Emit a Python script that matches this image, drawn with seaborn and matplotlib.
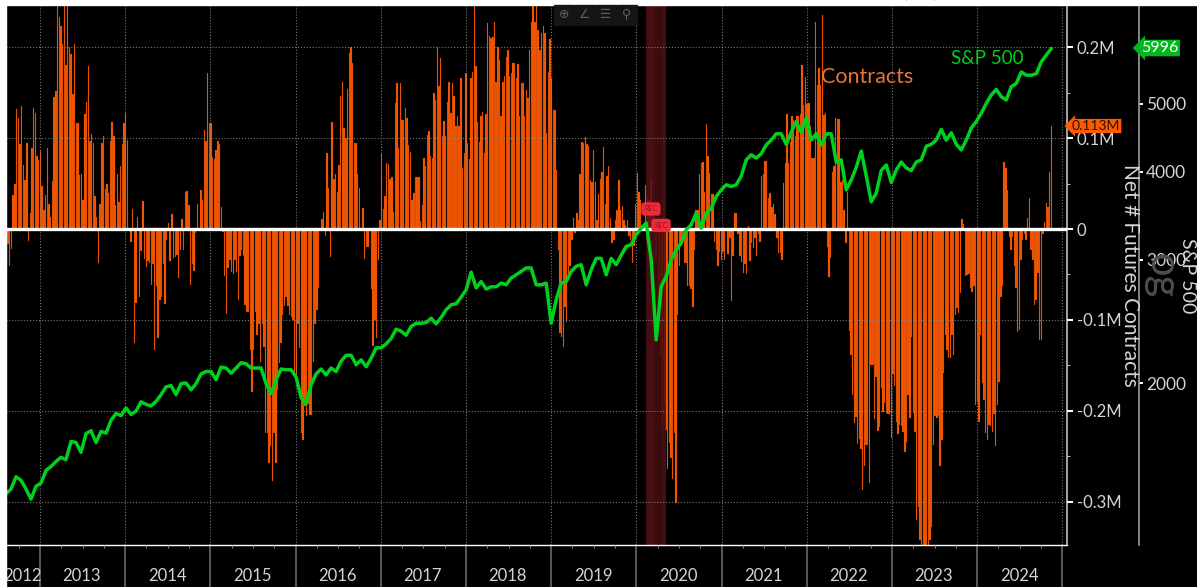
import numpy as np
import pandas as pd
import matplotlib
matplotlib.use('Agg')
import matplotlib.pyplot as plt
from matplotlib.patches import Rectangle
from matplotlib.ticker import NullLocator
import seaborn as sns

# net futures contracts in thousands, weekly in three stretches
contracts_a = [-43,-17,-41,-22,37,50,132,122,93,135,70,54,95,-13,18,89,133,127,80,76,86,47,21,37,89,27,13,53,145,152,
    250,233,223,203,250,180,250,200,192,148,203,116,117,59,60,32,126,140,179,97,104,95,36,13,-37,27,95,102,44,49,
    40,97,118,102,26,60,30,69,93,116,127,98,0,-14,22,-125,-81,13,-75,-24,31,-33,-42,-35,-37,-61,-39,-133,-63,-120,
    -78,-75,-39,-82,-12,7,-35,16,-32,-31,-29,-54,-23,11,-23,41,42,26,-61,-38,-46,-4,28,-1,43,32,109,97,171,116,
    116,79,77,87,97,93,24,-3,-52,-93,-43,-34,-47,-49,-34,-47,-78,-30,-23,-30,-84,-91,-91,-133,-179,-133,-91,-116,-104,-146,
    -104,-130,-224,-224,-257,-239,-277,-224,-257,-177,-147,-125,-94,-85,-75,-85,-94,-97,-100,-158,-162,-104,-131,-224,-232,-195,-206,-192,-204,-204,
    -146,-104,-89,-65,0,11,19,-8,84,45,-31,118,55,61,41,70,146,162,111,100,154,193,200,183,94,95,61,45,0,23,
    -33,-20,-20,0,-66,-129,-100,-120,-34,10,82,22,36,73,71,55,57,19,138,161]
contracts_b = [89,160,120,120,133,122,92,85,32,40,57,57,57,9,26,78,69,103,108,80,78,150,142,200,157,188,102,119,102,140,
    162,127,160,146,113,124,113,166,67,84,172,95,77,166,173,246,179,118,96,124,129,84,126,226,212,210,211,228,162,200,
    186,124,162,168,189,197,168,171,182,182,166,181,124,160,161,124,153,144,197,228,250,228,250,219,197,215,223,215,105,173,
    209,166,131,131,65,-23,-114,-119,-130,-86,-102,-56,-41,-12,12,-4,18,10,61,96,95,101,93,91,54,52,87,52,10,39,
    55,63,90,27,58,69,12,-15,-12,10,21,54,21,25,10,4,10,-8,-12,-37,-19,27,62,41,32,3,2,48,35,32,
    56,26,14,-35,-5,-90,-138,-215,-191,-221,-264,-235,-252,-275,-224,-301,-95,-41,-16,-17,-37,-37,-63,-63,-66,-86,-23,21,21,61,
    73,74,41,115,80,62,39,39,-14,-23,-41,-25,-34,-25,-34,0,-28,-10,-79,-30,18,18,-5,-30,-36,-48,-39,-50,
    3,-35,-15,-21,-10,-30,-5,-14,58,60,75,75,34,40,24,28,16,-10,-26,-26,-34,51,73,126,73,96,124,120,102,124]
contracts_c = [124,126,180,136,167,137,138,113,78,78,227,158,177,158,235,125,127,-20,-53,-32,63,69,122,121,121,52,54,21,-15,41,
    -112,-138,-182,-213,-207,-236,-231,-242,-287,-260,-237,-237,-279,-149,-149,-209,-163,-222,-218,-175,-201,-191,-202,-203,-203,-230,-159,-173,-212,-225,
    -215,-217,-223,-245,-234,-182,-208,-119,-202,-223,-320,-305,-342,-350,-350,-350,-350,-350,-342,-328,-237,-206,-208,-206,-261,-232,-158,-116,-133,-142,
    -142,-116,-138,-94,-87,-92,-70,11,5,-52,-51,-50,-65,-69,-63,-193,-190,-212,-116,-169,-188,-224,-232,-215,-217,-223,-203,-238,-193,-168,
    -75,-63,74,67,43,-9,-23,-9,-41,-65,-113,-111,-34,-12,-5,-12,12,34,-23,-34,-84,-78,-48,-122,-122,-5,8,29,24,63,113]

# S&P 500 read every few weeks
sp500_a = [1392,1414,1472,1455,1414,1368,1427,1442,1503,1523,1548,1569,1557,1653,1647,1595,1696,1712,1647,1708,
    1699,1771,1812,1799,1845,1806,1826,1882,1867,1857,1885,1927,1977,1985,1927,1998,2002,1958,1998,2063,
    2079,2079,2024,2109,2103,2068,2103,2140,2133,2103,2103,2103,1998,1934,2024,2096,2091,2091,2041,1908,
    1871,1991,2063,2096,2056,2103,2079,2150,2193,2193,2126,2160,2112,2171,2247,2247,2276,2317,2389]
sp500_b = [2373,2342,2410,2436,2436,2441,2476,2431,2482,2546,2588,2597,2654,2718,2880,2735,2792,2725,2745,2745,
    2778,2763,2825,2855,2887,2920,2920,2763,2763,2778,2436,2630,2778,2792,2887,2936,2951,2763,2902,3013,
    3013,2855,3013,2951,3045,3134,3151,3260,3327,3384,2999,2307,2748,2840,2999,3099,3169,3309,3365,3496,
    3327,3496,3552,3689,3772,3835,3814,3835,3947,4162,4232,4187,4247,4372,4441,4534,4534,4380,4558,4720]
sp500_c = [4558,4775,4443,4534,4372,4533,4533,4133,4162,3772,3898,4062,4284,3947,3628,3733,4019,4094,3865,4027,
    4133,4054,4019,4133,4162,4352,4380,4443,4600,4441,4549,4380,4300,4443,4622,4720,4851,5011,5150,5245,
    5120,5066,5292,5347,5553,5495,5495,5522,5741,5870,5996]

year_labels = ['2012','2013','2014','2015','2016','2017','2018','2019','2020','2021','2022','2023','2024']
contract_ticks = [-300,-200,-100,0,100,200]
contract_labels = ['-0.3M','-0.2M','-0.1M','0','0.1M','0.2M']
sp_ticks = [2000,3000,4000,5000]

sns.set_style('dark', {'axes.facecolor':'black','figure.facecolor':'black'})
plt.rcParams['font.family'] = ['Lato','DejaVu Sans']
GREEN = '#00d01e'
ORANGE = '#ff5a00'
GREY = '#d4d4d4'

W, H = 1197, 587
fig = plt.figure(figsize=(W/100, H/100), dpi=100, facecolor='black')
fig.patches.append(Rectangle((0,0), 6/W, 1, transform=fig.transFigure, color='white'))
fig.patches.append(Rectangle((0,1-5/H), 1, 5/H, transform=fig.transFigure, color='white'))
fig.text(920/W, 1+2/H, '(Mn)', color='#0b6b3a', fontsize=13, ha='center', va='baseline', zorder=5)

ax = fig.add_axes([6/W, 42/H, 1061/W, 540/H], facecolor='black')

# year positions for the weekly bars
def span(n, a, b):
    return np.linspace(a, b, n, endpoint=False)
YL, YR = 2012.601, 2025.054
x_a = span(len(contracts_a), 2012.605, 2017.21)
x_b = span(len(contracts_b), 2017.21, 2021.905)
x_c = np.linspace(2021.905, 2024.87, len(contracts_c))
bars = pd.DataFrame({'date': np.round(np.concatenate([x_a, x_b, x_c]), 4),
                     'contracts': contracts_a + contracts_b + contracts_c})
sns.barplot(data=bars, x='date', y='contracts', native_scale=True, orient='x', errorbar=None,
            color=ORANGE, saturation=1, width=0.85, edgecolor='#8f3400', linewidth=0.15, ax=ax)
ax.set_xlim(YL, YR)
ax.set_ylim(-347.3, 246.2)
ax.set_xlabel('')
ax.set_ylabel('')

ax.axvspan(2020.113, 2020.344, color='#4f1015', alpha=0.88, lw=0, zorder=1.5)
ax.axvspan(2020.22, 2020.30, color='#2a0a0a', alpha=0.35, lw=0, zorder=1.6)
ax.axhline(0, color='white', lw=2.4, zorder=3)

years = np.arange(2013, 2026)
ax.set_xticks(years)
ax.set_xticklabels([])
ax.set_xticks(np.arange(2012.75, 2025, 0.25), minor=True)
ax.tick_params(axis='x', which='major', length=0, bottom=True)
ax.tick_params(axis='x', which='minor', length=2, width=0.8, color='#888888', bottom=True)
ax.set_yticks(contract_ticks)
ax.set_yticklabels(contract_labels)
ax.set_yticks([-250,-150,-50,50,150], minor=True)
ax.grid(True, which='major', color='#8a8a8a', ls=':', lw=0.8, alpha=0.85)
ax.set_axisbelow(False)

for s in ['left','top']:
    ax.spines[s].set_visible(False)
ax.spines['bottom'].set_color('white')
ax.spines['bottom'].set_linewidth(1)
ax.spines['right'].set_color('#c0c0c0')
ax.spines['right'].set_linewidth(1.2)

# year strip under the axis
tr = ax.get_xaxis_transform()
edges = np.concatenate([[YL], years])
for yr in years:
    ax.plot([yr, yr], [0, -42/540], transform=tr, color='#5a5a5a', lw=1.4, clip_on=False)
for i, lab_txt in enumerate(year_labels):
    ax.text((edges[i]+edges[i+1])/2 - 0.01, -31/540, lab_txt, transform=tr, color=GREY, fontsize=12,
            ha='center', va='center')

# S&P 500 on its own log axis
ax2 = ax.twinx()
ax2.patch.set_visible(False)
ax2.set_yscale('log')
sp = pd.DataFrame({'date': np.linspace(2012.601, 2024.87, len(sp500_a+sp500_b+sp500_c)),
                   'sp500': sp500_a + sp500_b + sp500_c})
sns.lineplot(data=sp, x='date', y='sp500', color=GREEN, lw=2.5, ax=ax2, zorder=4)
ax2.set_xlim(YL, YR)
ax2.set_ylim(1177, 6917)
ax2.set_xlabel('')
ax2.set_ylabel('')
ax2.yaxis.set_minor_locator(NullLocator())
ax2.set_yticks(sp_ticks)
ax2.set_yticklabels([str(v) for v in sp_ticks])
ax2.tick_params(axis='y', which='major', length=3, width=1.4, color='white', pad=2, right=True,
                labelcolor=GREY, labelsize=12.5)
ax2.grid(False)
for s in ['left','top','bottom']:
    ax2.spines[s].set_visible(False)
ax2.spines['right'].set_position(('outward', 72*0.72))
ax2.spines['right'].set_color('#9a9a9a')
ax2.spines['right'].set_linewidth(1.2)

# twinx pushes the contracts axis to the left, put it back
ax.yaxis.tick_right()
ax.tick_params(axis='y', which='major', length=4, width=1.5, color='white', pad=3, right=True, left=False,
               labelcolor=GREY, labelsize=12)
ax.tick_params(axis='y', which='minor', length=2, width=0.8, color='#bbbbbb', right=True, left=False)

# recession flags
for xr, yv in [(2020.17, 22), (2020.29, 4)]:
    ax.text(xr, yv, 'REC', color='#8a1520', fontsize=5, ha='center', va='center', zorder=5,
            bbox=dict(boxstyle='round,pad=0.45', fc='#f02a3c', ec='none'))

def lab(px, py, s, **kw):
    fig.text(px/W, 1-py/H, s, **kw)

lab(867, 77, 'Contracts', color='#e8743a', fontsize=15.5, ha='center', va='center', zorder=6)
lab(987, 58, 'S&P 500', color=GREEN, fontsize=13.5, ha='center', va='center', zorder=6)
lab(1130, 275, 'Net # Futures Contracts', color=GREY, fontsize=15, rotation=270, ha='center', va='center', zorder=6)
lab(1188, 276, 'S&P 500', color=GREY, fontsize=14, rotation=270, ha='center', va='center', zorder=6)
lab(1161, 276, 'og', color='#4e4e4e', fontsize=30, rotation=270, ha='center', va='center', zorder=3)

# last value tags
lab(1160, 48, '5996', color='white', fontsize=11.5, ha='center', va='center', zorder=7,
    bbox=dict(boxstyle='larrow,pad=0.08', fc='#00b81e', ec='none'))
lab(1096, 126, '0.113M', color='#2a1000', fontsize=10, ha='center', va='center', zorder=7,
    bbox=dict(boxstyle='larrow,pad=0.08', fc=ORANGE, ec='none'))

# chart toolbar
for px, glyph in zip([564, 585, 606, 627], ['⊕', '∠', '☰', '⚲']):
    fig.patches.append(Rectangle(((px-10)/W, 1-25/H), 20/W, 20/H, transform=fig.transFigure, color='#151515', zorder=8))
    lab(px, 15, glyph, color='#5e5e5e', fontsize=9, ha='center', va='center', zorder=9,
        family=['DejaVu Sans'])

fig.savefig('out.png', dpi=100, facecolor=fig.get_facecolor())
